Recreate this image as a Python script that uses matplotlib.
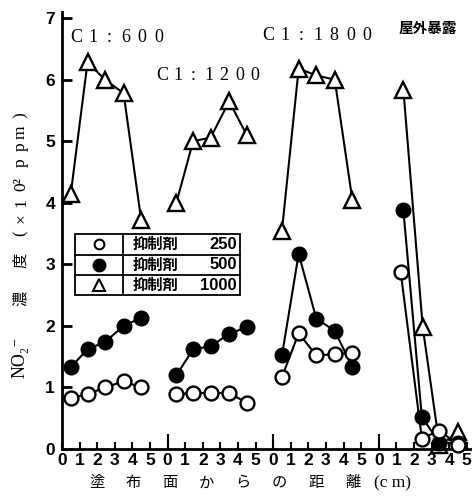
import matplotlib
matplotlib.use('Agg')
import matplotlib.pyplot as plt
from matplotlib.patches import Rectangle
from matplotlib.lines import Line2D

W, H = 472, 499  # figure size in px

# distance from coated surface (cm) inside each panel
dist = [0.5, 1.45, 2.45, 3.5, 4.5]
panel_start = [0, 6, 12]
panel_names = ['C1:600', 'C1:1200', 'C1:1800']

# NO2- conc (x10^2 ppm) for inhibitor 250 / 500 / 1000, one row per panel
inh250 = [[0.83, 0.89, 1.0, 1.1, 1.0],
          [0.89, 0.91, 0.91, 0.91, 0.75],
          [1.17, 1.88, 1.52, 1.54, 1.56]]
inh500 = [[1.33, 1.62, 1.74, 2.0, 2.13],
          [1.2, 1.62, 1.67, 1.87, 1.98],
          [1.52, 3.17, 2.12, 1.92, 1.33]]
inh1000 = [[4.15, 6.28, 6.0, 5.78, 3.72],
           [4.0, 5.0, 5.06, 5.65, 5.1],
           [3.55, 6.18, 6.07, 6.0, 4.05]]

# outdoor exposure panel
out_start = 18
out_name = '屋外暴露'
out_x250 = [1.25, 2.45, 3.45, 4.5]
out_250 = [2.87, 0.17, 0.3, 0.07]
out_x500 = [1.4, 2.45, 3.45, 4.5]
out_500 = [3.88, 0.52, 0.1, 0.1]
out_x1000 = [1.4, 2.5, 3.45, 4.5]
out_1000 = [5.84, 1.98, 0.06, 0.27]

legend_labels = ['250', '500', '1000']
xtick_labels = '0 1 2 3 4 5 0 1 2 3 4 5 0 1 2 3 4 5 0 1 2 3 4 5'.split()
yticks = [0, 1, 2, 3, 4, 5, 6, 7]
ylabel_unit = ['(', '×', '1', '0²', 'p', 'p', 'm', ')']

SERIF = ['Liberation Serif', 'Noto Sans CJK JP', 'DejaVu Sans']
CJK = ['Noto Sans CJK JP', 'DejaVu Sans']


def fx(x):
    return x / W


def fy(y):
    return 1 - y / H


def spaced(x0, y, s, pitch, **kw):
    # place characters one by one (old typeset letter spacing)
    for i, ch in enumerate(s):
        fig.text(fx(x0 + i * pitch), fy(y), ch, ha='center', va='center', **kw)


def vtext(y, s, **kw):
    # rotated piece of the y label, all on one baseline
    fig.text(fx(25), fy(y), s, rotation=90, rotation_mode='anchor',
             ha='center', va='baseline', **kw)


fig = plt.figure(figsize=(W / 100, H / 100), dpi=100)
ax = fig.add_axes([fx(62), fy(449), 410 / W, 437 / H])
ax.set_xlim(0, 23.3)
ax.set_ylim(0, 7.1)

st250 = dict(marker='o', ms=10, mfc='white', mec='black', mew=1.7, color='black', lw=1.5, clip_on=False, zorder=4)
st500 = dict(marker='o', ms=10.5, mfc='black', mec='black', color='black', lw=1.5, clip_on=False, zorder=3)
st1000 = dict(marker='^', ms=12, mfc='white', mec='black', mew=1.7, color='black', lw=1.5, clip_on=False, zorder=3)

for s, a, b, c in zip(panel_start, inh250, inh500, inh1000):
    xs = [s + d for d in dist]
    ax.plot(xs, b, **st500)
    ax.plot(xs, a, **st250)
    ax.plot(xs, c, **st1000)

ax.plot([out_start + d for d in out_x1000], out_1000, **dict(st1000, zorder=2))
ax.plot([out_start + d for d in out_x500], out_500, **st500)
ax.plot([out_start + d for d in out_x250], out_250, **st250)

# axes look
for sp in ['top', 'right']:
    ax.spines[sp].set_visible(False)
for sp in ['left', 'bottom']:
    ax.spines[sp].set_linewidth(2)

ax.set_xticks(range(len(xtick_labels)))
ax.set_xticklabels(xtick_labels)
ax.set_xticks(panel_start[1:] + [out_start], minor=True)
ax.xaxis.remove_overlapping_locs = False
ax.tick_params(axis='x', which='major', direction='in', length=5, width=1.5, pad=3, labelsize=12.5)
ax.tick_params(axis='x', which='minor', direction='in', length=11, width=1.5)
ax.set_yticks(yticks)
ax.tick_params(axis='y', direction='in', length=7, width=2, pad=5, labelsize=12.5)
for lab in ax.get_xticklabels() + ax.get_yticklabels():
    lab.set_fontweight('bold')
    lab.set_family('Liberation Sans')

# panel titles
spaced(76, 38, panel_names[0], 16.5, family=SERIF, fontsize=13)
spaced(162, 76, panel_names[1], 15.5, family=SERIF, fontsize=13)
spaced(268, 36, panel_names[2], 16.5, family=SERIF, fontsize=13)
fig.text(fx(428), fy(28), out_name, ha='center', va='center', family=CJK,
         fontsize=10.5, fontweight='bold')

# y axis title, piece by piece
vtext(357, 'NO₂⁻', family=SERIF, fontsize=13)
vtext(298, '濃', family=CJK, fontsize=11)
vtext(260, '度', family=CJK, fontsize=11)
for y, ch in zip([233, 218, 203, 184, 163, 147, 132, 115], ylabel_unit):
    vtext(y, ch, family=SERIF, fontsize=12.5)

# x axis title
spaced(97, 483, '塗布面からの距離', 36.5, family=CJK, fontsize=11)
fig.text(fx(393), fy(483), '(c m)', ha='center', va='center', family=SERIF, fontsize=12.5)

# boxed legend
lk = dict(transform=fig.transFigure, color='black', lw=1.3)
fig.add_artist(Rectangle((fx(75), fy(295)), 165 / W, 61 / H, fill=False, **lk))
fig.add_artist(Line2D([fx(123), fx(123)], [fy(234), fy(295)], **lk))
fig.add_artist(Line2D([fx(75), fx(240)], [fy(254.5), fy(254.5)], **lk))
fig.add_artist(Line2D([fx(75), fx(240)], [fy(275), fy(275)], **lk))
rows = [244, 264.5, 285]
mk = [dict(marker='o', ms=7, mfc='white', mec='black', mew=1.5),
      dict(marker='o', ms=9, mfc='black', mec='black'),
      dict(marker='^', ms=8, mfc='white', mec='black', mew=1.5)]
for y, m, lab in zip(rows, mk, legend_labels):
    fig.add_artist(Line2D([fx(99)], [fy(y)], transform=fig.transFigure, ls='none', **m))
    fig.text(fx(133), fy(y), '抑制剤', ha='left', va='center', family=CJK,
             fontsize=11, fontweight='bold')
    fig.text(fx(237), fy(y), lab, ha='right', va='center', family='Liberation Sans',
             fontsize=12, fontweight='bold')

fig.savefig('out.png', dpi=100)
